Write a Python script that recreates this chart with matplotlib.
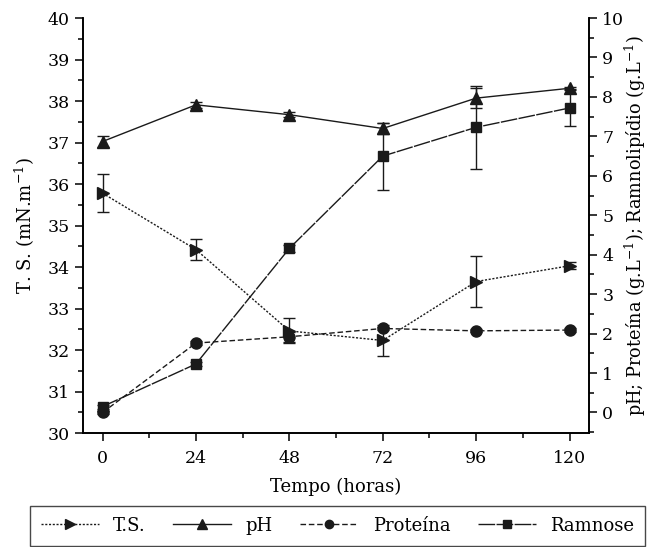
import matplotlib
matplotlib.use("Agg")
import matplotlib.pyplot as plt
from matplotlib.ticker import MultipleLocator

plt.rcParams['font.family'] = ['DejaVu Serif']
plt.rcParams['mathtext.fontset'] = 'dejavuserif'

horas = [0, 24, 48, 72, 96, 120]

ts = [35.78, 34.42, 32.46, 32.23, 33.65, 34.03]
ts_err = [0.45, 0.25, 0.3, 0.38, 0.62, 0.08]

ph = [6.87, 7.8, 7.55, 7.2, 7.97, 8.22]
ph_err = [0.15, 0.08, 0.07, 0.13, 0.25, 0.03]

proteina = [0.0, 1.76, 1.92, 2.13, 2.07, 2.09]
proteina_err = [0.03, 0.04, 0.13, 0.05, 0.04, 0.04]

ramnose = [0.15, 1.23, 4.16, 6.5, 7.23, 7.72]
ramnose_err = [0.05, 0.05, 0.08, 0.85, 1.06, 0.46]

fig = plt.figure(figsize=(6.49, 5.47), dpi=100)
ax = fig.add_axes([0.128, 0.2084, 0.7796, 0.7586])
ax2 = ax.twinx()

lw = 1.0
c = '#1a1a1a'
h_ts = ax.errorbar(horas, ts, yerr=ts_err, color=c, linestyle=(0, (1.5, 1.2)),
                   linewidth=lw, marker='>', markersize=9, capsize=4, elinewidth=1)
h_ph = ax2.errorbar(horas, ph, yerr=ph_err, color=c, linestyle='-',
                    linewidth=lw, marker='^', markersize=9, capsize=4, elinewidth=1)
h_pr = ax2.errorbar(horas, proteina, yerr=proteina_err, color=c, linestyle=(0, (4, 2)),
                    linewidth=lw, marker='o', markersize=8, capsize=4, elinewidth=1)
h_ra = ax2.errorbar(horas, ramnose, yerr=ramnose_err, color=c, linestyle=(0, (12, 1)),
                    linewidth=lw, marker='s', markersize=7.5, capsize=4, elinewidth=1)

ax.set_xlim(-5, 125)
ax.set_ylim(30, 40)
ax2.set_ylim(-0.52, 10)
ax.set_xticks(horas)
ax.xaxis.set_minor_locator(MultipleLocator(12))
ax.yaxis.set_major_locator(MultipleLocator(1))
ax.yaxis.set_minor_locator(MultipleLocator(0.5))
ax2.set_yticks(range(0, 11))
ax2.yaxis.set_minor_locator(MultipleLocator(0.5))

for a in (ax, ax2):
    a.spines['top'].set_visible(False)
    for s in a.spines.values():
        s.set_linewidth(1.2)
    a.tick_params(which='major', direction='out', length=6, width=1.1, labelsize=12.5)
    a.tick_params(which='minor', direction='out', length=3.5, width=1.1)
ax.tick_params(axis='x', pad=6)

ax.set_xlabel('Tempo (horas)', fontsize=13, labelpad=8)
ax.set_ylabel('T. S. (mN.m$^{-1}$)', fontsize=13, labelpad=8)
ax2.set_ylabel('pH; Proteína (g.L$^{-1}$); Ramnolipídio (g.L$^{-1}$)', fontsize=12.8)
ax2.yaxis.set_label_coords(1.066, 0.5)

handles = [h_ts[0], h_ph[0], h_pr[0], h_ra[0]]
labels = ['T.S.', 'pH', 'Proteína', 'Ramnose']
leg = fig.legend(handles, labels, loc='upper left', ncol=4, mode='expand',
                 bbox_to_anchor=(30 / 649, -0.05, 615 / 649, 0.125), borderaxespad=0,
                 fontsize=13, frameon=True, fancybox=False, edgecolor=c,
                 markerscale=0.75, handlelength=3.2, borderpad=0.6, columnspacing=1.2)
leg.get_frame().set_linewidth(1.0)

fig.savefig('out.png', dpi=100)
